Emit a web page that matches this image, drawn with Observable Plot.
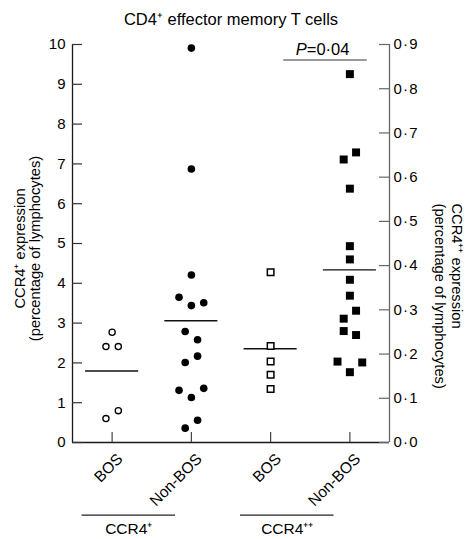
<!DOCTYPE html>
<html><head><meta charset="utf-8">
<script src="https://cdn.jsdelivr.net/npm/d3@7"></script>
<script src="https://cdn.jsdelivr.net/npm/@observablehq/plot@0.6"></script>
<style>html,body{margin:0;padding:0;background:#fff}svg{display:block}</style>
</head><body><div id="chart"></div>
<script>
// ---------- data ----------
const chartTitle = "CD4⁺ effector memory T cells";
const categories = ["BOS", "Non-BOS", "BOS", "Non-BOS"];
const receptorGroups = ["CCR4⁺", "CCR4⁺⁺"];
const leftAxisTitle = "CCR4⁺ expression\n(percentage of lymphocytes)";
const rightAxisTitle = "CCR4⁺⁺ expression\n(percentage of lymphocytes)";
const pLabelItalic = "P";
const pLabelRest = "=0·04";

// CCR4+ (left axis, % of lymphocytes)
const bosCCR4p = [2.77, 2.41, 2.41, 0.80, 0.60];
const nonBosCCR4p = [9.91, 6.87, 4.21, 3.65, 3.51, 3.44, 2.79, 2.58, 2.17, 2.01, 1.36, 1.31, 1.13, 0.56, 0.36];
// CCR4++ (right axis, % of lymphocytes)
const bosCCR4pp = [0.385, 0.218, 0.183, 0.153, 0.121];
const nonBosCCR4pp = [0.833, 0.656, 0.640, 0.574, 0.444, 0.414, 0.368, 0.332, 0.298, 0.280, 0.252, 0.243, 0.183, 0.181, 0.159];
// horizontal scatter (in point-widths) as seen in the figure
const bosCCR4pSpread = [0, -1, 1, 1, -1];
const nonBosCCR4pSpread = [0, 0, 0, -2, 2, 0, -1, 1, 1, -1, 2, -2, 0, 1, -1];
const bosCCR4ppSpread = [0, 0, 0, 0, 0];
const nonBosCCR4ppSpread = [0, 1, -1, 0, 0, 0, 0, 0, 1, -1, -1, 1, -2, 2, 0];

const leftTicks = [0, 1, 2, 3, 4, 5, 6, 7, 8, 9, 10];
const rightTicks = [0, 0.1, 0.2, 0.3, 0.4, 0.5, 0.6, 0.7, 0.8, 0.9];
const leftMax = 10, rightMax = 0.9;
const pValueLevel = 0.865; // right-axis units, comparison bar

// ---------- build ----------
const ratio = leftMax / rightMax;
const series = [
  {g: 0, vals: bosCCR4p, spread: bosCCR4pSpread, k: 1, filled: false, symbol: "circle"},
  {g: 1, vals: nonBosCCR4p, spread: nonBosCCR4pSpread, k: 1, filled: true, symbol: "circle"},
  {g: 2, vals: bosCCR4pp, spread: bosCCR4ppSpread, k: ratio, filled: false, symbol: "square"},
  {g: 3, vals: nonBosCCR4pp, spread: nonBosCCR4ppSpread, k: ratio, filled: true, symbol: "square"}
];
const rows = series.flatMap(s => s.vals.map((v, i) => ({g: s.g, v: v * s.k, s: s.spread[i], filled: s.filled, symbol: s.symbol})));
const means = series.map(s => ({g: s.g, m: d3.mean(s.vals) * s.k}));
const jit = 0.078;
const halfMean = 0.335;

const W = 474, H = 539, mL = 72, mR = 85, mT = 44, mB = 97;
const plotW = W - mL - mR, plotH = H - mT - mB;
const font = "'Liberation Sans', Arial, Helvetica, sans-serif";
const fsTitle = 16.5, fsTick = 15, fsCat = 15.5, fsAxis = 14.7;
const fmtRight = d => (d / ratio).toFixed(1).replace(".", "\u200A·\u200A");

const chart = Plot.plot({
  width: W, height: H,
  marginLeft: mL, marginRight: mR, marginTop: mT, marginBottom: mB,
  style: {fontFamily: font, fontSize: fsTick + "px", background: "#fff", color: "#000", overflow: "visible"},
  x: {domain: [-0.5, 3.5], axis: null},
  y: {domain: [0, leftMax], axis: null},
  marks: [
    // axes lines
    Plot.ruleX([-0.5], {stroke: "#1a1a1a", strokeWidth: 1.3}),
    Plot.ruleX([3.5], {stroke: "#666", strokeWidth: 1.3}),
    Plot.ruleY([0], {stroke: "#1a1a1a", strokeWidth: 1.3}),
    // inward ticks
    Plot.tickY(leftTicks, {y: d => d, insetRight: plotW - 10, stroke: "#333", strokeWidth: 1.2}),
    Plot.tickY(rightTicks, {y: d => d * ratio, insetLeft: plotW - 10, stroke: "#666", strokeWidth: 1.2}),
    Plot.tickX([0, 1, 2, 3], {x: d => d, insetTop: plotH - 10, stroke: "#444", strokeWidth: 1.2}),
    // tick labels
    Plot.axisY(leftTicks, {anchor: "left", tickSize: 0, tickPadding: 7, tickFormat: d => String(d), label: null, fontSize: fsTick}),
    Plot.axisY(rightTicks.map(d => d * ratio), {anchor: "right", tickSize: 0, tickPadding: 4, tickFormat: fmtRight, label: null, fontSize: fsTick}),
    // category labels
    Plot.text(categories.map((c, i) => ({c, i})), {x: "i", y: () => 0, text: "c", rotate: -45, textAnchor: "end", lineAnchor: "bottom", dx: 11.5, dy: 17.5, fontSize: fsCat}),
    // group brackets
    Plot.ruleY(receptorGroups.map((r, i) => ({r, i})), {y: () => 0, x1: d => 2 * d.i - 0.38, x2: d => 2 * d.i + 0.80, dy: 72.6, stroke: "#222", strokeWidth: 1.2}),
    Plot.text(receptorGroups.map((r, i) => ({r, i})), {x: d => 2 * d.i + 0.21, y: () => 0, text: "r", lineAnchor: "bottom", dy: 91.5, fontSize: fsCat}),
    // mean lines
    Plot.ruleY(means, {y: "m", x1: d => d.g - halfMean, x2: d => d.g + halfMean, stroke: "#111", strokeWidth: 1.4}),
    // points
    Plot.dot(rows.filter(d => d.symbol === "circle" && !d.filled), {x: d => d.g + d.s * jit, y: "v", r: 3.1, fill: "#fff", stroke: "#000", strokeWidth: 1.3}),
    Plot.dot(rows.filter(d => d.symbol === "circle" && d.filled), {x: d => d.g + d.s * jit, y: "v", r: 3.8, fill: "#000", stroke: "none"}),
    Plot.dot(rows.filter(d => d.symbol === "square" && !d.filled), {x: d => d.g + d.s * jit, y: "v", symbol: "square", r: 3.7, fill: "#fff", stroke: "#000", strokeWidth: 1.5}),
    Plot.dot(rows.filter(d => d.symbol === "square" && d.filled), {x: d => d.g + d.s * jit, y: "v", symbol: "square", r: 4.5, fill: "#000", stroke: "none"}),
    // significance bar
    Plot.ruleY([pValueLevel * ratio], {y: d => d, x1: 2.166, x2: 3.219, stroke: "#777", strokeWidth: 1.5}),
    Plot.text([pLabelItalic], {x: 2.69, y: () => pValueLevel * ratio, text: d => d, textAnchor: "end", lineAnchor: "bottom", dx: -18.5, dy: -5, fontStyle: "italic", fontSize: fsTitle}),
    Plot.text([pLabelRest], {x: 2.69, y: () => pValueLevel * ratio, text: d => d, textAnchor: "start", lineAnchor: "bottom", dx: -18.5, dy: -5, fontSize: fsTitle}),
    // titles
    Plot.text([chartTitle], {frameAnchor: "top", text: d => d, lineAnchor: "bottom", dy: -20, fontSize: fsTitle}),
    Plot.text([leftAxisTitle], {frameAnchor: "left", text: d => d, rotate: -90, textAnchor: "middle", lineAnchor: "middle", lineHeight: 1.02, dx: -45, dy: 5, fontSize: fsAxis}),
    Plot.text([rightAxisTitle], {frameAnchor: "top-right", text: d => d, rotate: 90, textAnchor: "start", lineAnchor: "middle", lineHeight: 1.15, dx: 59.5, dy: 159, fontSize: fsAxis})
  ]
});
document.getElementById("chart").appendChild(chart);
</script>
</body></html>
